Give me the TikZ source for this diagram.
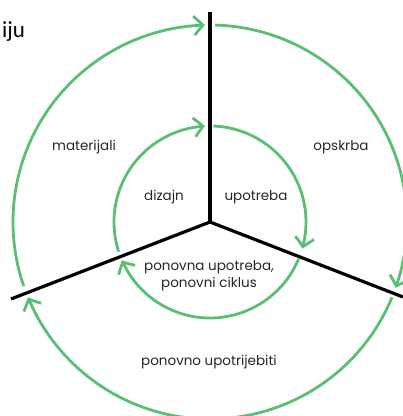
\documentclass[tikz,border=0pt]{standalone}
\usepackage{fontspec}
\setmainfont{Poppins}
\newfontfamily\headfont{Carlito}
\usetikzlibrary{arrows.meta,bending}
\definecolor{cyclegreen}{RGB}{92,190,116}
\tikzset{
  spoke/.style={line width=3.2pt, black},
  cyc/.style={line width=2.8pt, cyclegreen, -{Straight Barb[length=9pt,width=19pt,bend]}},
  lbl/.style={font=\fontsize{13.5}{17.5}\selectfont, text=black!85, inner sep=0pt, align=center}
}
\begin{document}
\begin{tikzpicture}[x=1pt,y=-1pt]
\useasboundingbox (0,0) rectangle (403,416);
% hub and spokes
\coordinate (O) at (210,222);
\coordinate (T) at (210,12);
\coordinate (L) at (11,299);
\coordinate (R) at (403,297);
\draw[spoke] (O) -- (T);
\draw[spoke] (O) -- (L);
\draw[spoke] (O) -- (R);
% outer cycle (y axis points down, so angles are measured clockwise)
\draw[cyc] (O) ++(161:197) arc[start angle=161, end angle=268.5, radius=197];
\draw[cyc] (O) ++(271.5:197) arc[start angle=271.5, end angle=379.5, radius=197];
\draw[cyc] (O) ++(22.5:197) arc[start angle=22.5, end angle=157.5, radius=197];
% inner cycle
\draw[cyc] (O) ++(162:96) arc[start angle=162, end angle=267, radius=96];
\draw[cyc] (O) ++(272:96) arc[start angle=272, end angle=376, radius=96];
\draw[cyc] (O) ++(22.5:96) arc[start angle=22.5, end angle=156.5, radius=96];
% labels
\node[anchor=base west, inner sep=0pt, font=\headfont\fontsize{23}{26}\selectfont] (head) at (2,37) {iju};
\node[lbl] (mat) at (84,147) {materijali};
\node[lbl] (ops) at (341,147) {opskrba};
\node[lbl] (diz) at (164,197) {dizajn};
\node[lbl] (upo) at (256,197) {upotreba};
\node[lbl] (pon) at (209,276) {ponovna upotreba,\\ponovni ciklus};
\node[lbl] (reu) at (209,362) {ponovno upotrijebiti};
\end{tikzpicture}
\end{document}
